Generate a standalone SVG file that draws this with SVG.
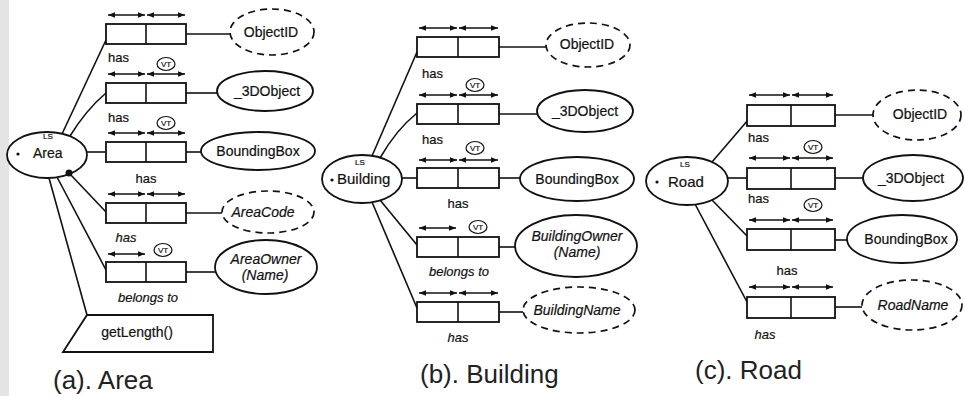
<svg xmlns="http://www.w3.org/2000/svg" width="965" height="396" viewBox="0 0 965 396">
<defs>
<marker id="ah" viewBox="0 0 10 8" refX="10" refY="4" markerWidth="7" markerHeight="5.6" orient="auto-start-reverse" markerUnits="userSpaceOnUse"><path d="M0,0 L10,4 L0,8 z" fill="#111"/></marker>
</defs>
<style>
text{font-family:"Liberation Sans",Arial,sans-serif;fill:#111;stroke:#111;stroke-width:0.2}
.sh{fill:#fff;stroke:#111;stroke-width:1.8}
.dash{fill:#fff;stroke:#111;stroke-width:1.7;stroke-dasharray:7 5}
.c{fill:none;stroke:#111;stroke-width:1.6}
.ar{stroke:#111;stroke-width:1.5;marker-start:url(#ah);marker-end:url(#ah)}
.lab{font-size:14px;text-anchor:middle}
.it{font-style:italic}
.rel{font-size:13px}
.mid{text-anchor:middle}
.vt{fill:#fff;stroke:#111;stroke-width:1.2}
.vtt{font-size:8px;text-anchor:middle}
.ls{font-size:8px;text-anchor:middle}
.nm{font-size:15px}
.cap{font-size:26px;fill:#222;stroke:none}
</style>
<rect x="0" y="0" width="965" height="396" fill="#fff"/>
<rect x="0" y="0" width="9" height="396" fill="#e4e4e4"/>

<!-- connectors -->
<g id="connectors" class="c">
  <!-- panel a -->
  <line x1="62" y1="134" x2="106" y2="40"/>
  <path d="M70,136 Q86,110 106,93"/>
  <line x1="87" y1="152" x2="106" y2="152"/>
  <line x1="69" y1="173" x2="106" y2="212"/>
  <line x1="57" y1="177" x2="106" y2="270"/>
  <line x1="49" y1="178" x2="87" y2="315"/>
  <line x1="186" y1="34" x2="230" y2="34"/>
  <line x1="186" y1="93" x2="217" y2="93"/>
  <line x1="186" y1="152" x2="201" y2="152"/>
  <line x1="186" y1="213" x2="222" y2="213"/>
  <line x1="186" y1="272" x2="216" y2="272"/>
  <!-- panel b -->
  <line x1="372" y1="156" x2="417" y2="52"/>
  <path d="M380,158 Q396,130 417,113"/>
  <line x1="402" y1="178" x2="417" y2="178"/>
  <line x1="380" y1="200" x2="417" y2="245"/>
  <line x1="372" y1="202" x2="417" y2="308"/>
  <line x1="499" y1="47" x2="547" y2="47"/>
  <line x1="499" y1="114" x2="537" y2="114"/>
  <line x1="499" y1="178" x2="520" y2="178"/>
  <line x1="499" y1="247" x2="516" y2="247"/>
  <line x1="499" y1="312" x2="523" y2="312"/>
  <!-- panel c -->
  <line x1="712" y1="162" x2="748" y2="120"/>
  <line x1="728" y1="178" x2="747" y2="178"/>
  <line x1="712" y1="200" x2="747" y2="236"/>
  <line x1="695" y1="204" x2="747" y2="302"/>
  <line x1="835" y1="115" x2="873" y2="115"/>
  <line x1="835" y1="178" x2="863" y2="178"/>
  <line x1="835" y1="240" x2="847" y2="240"/>
  <line x1="835" y1="307" x2="862" y2="307"/>
</g>

<!-- ===== Panel (a) Area ===== -->
<g id="area">
  <ellipse class="sh" cx="47" cy="155" rx="40" ry="23"/>
  <text class="ls" x="48" y="139">LS</text>
  <circle cx="18" cy="154" r="1.6" fill="#111"/>
  <text x="33" y="158" font-size="14">Area</text>
  <circle cx="69" cy="173" r="3.5" fill="#111"/>
</g>
<g id="a-rel1">
  <rect class="sh" x="106" y="24" width="80" height="20"/>
  <line class="c" x1="146" y1="24" x2="146" y2="44"/>
  <line class="ar" x1="108" y1="15" x2="145" y2="15"/>
  <line class="ar" x1="147" y1="15" x2="185" y2="15"/>
  <text class="rel" x="108" y="62">has</text>
</g>
<g id="a-rel2">
  <rect class="sh" x="106" y="83" width="80" height="20"/>
  <line class="c" x1="146" y1="83" x2="146" y2="103"/>
  <line class="ar" x1="108" y1="74" x2="145" y2="74"/>
  <line class="ar" x1="147" y1="74" x2="185" y2="74"/>
  <ellipse class="vt" cx="166" cy="64" rx="9" ry="6.5"/>
  <text class="vtt" x="166" y="67">VT</text>
  <text class="rel" x="108" y="122">has</text>
</g>
<g id="a-rel3">
  <rect class="sh" x="106" y="142" width="80" height="20"/>
  <line class="c" x1="146" y1="142" x2="146" y2="162"/>
  <line class="ar" x1="108" y1="133" x2="145" y2="133"/>
  <line class="ar" x1="147" y1="133" x2="185" y2="133"/>
  <ellipse class="vt" cx="166" cy="123" rx="9" ry="6.5"/>
  <text class="vtt" x="166" y="126">VT</text>
  <text class="rel mid" x="146" y="183">has</text>
</g>
<g id="a-rel4">
  <rect class="sh" x="106" y="203" width="80" height="20"/>
  <line class="c" x1="146" y1="203" x2="146" y2="223"/>
  <line class="ar" x1="108" y1="194" x2="145" y2="194"/>
  <line class="ar" x1="147" y1="194" x2="185" y2="194"/>
  <text class="rel mid it" x="126" y="242">has</text>
</g>
<g id="a-rel5">
  <rect class="sh" x="106" y="262" width="80" height="20"/>
  <line class="c" x1="146" y1="262" x2="146" y2="282"/>
  <line class="ar" x1="108" y1="254" x2="145" y2="254"/>
  <ellipse class="vt" cx="163" cy="250" rx="9" ry="6.5"/>
  <text class="vtt" x="163" y="253">VT</text>
  <text class="rel mid it" x="148" y="302">belongs to</text>
</g>
<g id="a-objectid">
  <ellipse class="dash" cx="272" cy="32" rx="42" ry="23"/>
  <text class="lab" x="271" y="37">ObjectID</text>
</g>
<g id="a-3dobject">
  <ellipse class="sh" cx="265" cy="91" rx="48" ry="20"/>
  <text class="lab" x="267" y="96">_3DObject</text>
</g>
<g id="a-boundingbox">
  <ellipse class="sh" cx="258" cy="151" rx="57" ry="19"/>
  <text class="lab" x="258" y="156">BoundingBox</text>
</g>
<g id="a-areacode">
  <ellipse class="dash" cx="268" cy="212" rx="46" ry="21"/>
  <text class="lab it" x="263" y="217">AreaCode</text>
</g>
<g id="a-areaowner">
  <ellipse class="sh" cx="266" cy="267" rx="51" ry="27"/>
  <text class="lab it" x="266" y="264">AreaOwner</text>
  <text class="lab it" x="265" y="280">(Name)</text>
</g>
<g id="a-getlength">
  <polygon class="sh" points="87,315 213,315 213,352 63,352"/>
  <text class="lab" x="137" y="337">getLength()</text>
</g>
<text class="cap" x="53" y="389">(a). Area</text>

<!-- ===== Panel (b) Building ===== -->
<g id="building">
  <ellipse class="sh" cx="362" cy="179" rx="40" ry="24"/>
  <text class="ls" x="360" y="165">LS</text>
  <circle cx="332" cy="180" r="1.6" fill="#111"/>
  <text class="nm" x="337" y="184">Building</text>
</g>
<g id="b-rel1">
  <rect class="sh" x="417" y="37" width="82" height="20"/>
  <line class="c" x1="458" y1="37" x2="458" y2="57"/>
  <line class="ar" x1="419" y1="28" x2="457" y2="28"/>
  <line class="ar" x1="459" y1="28" x2="498" y2="28"/>
  <text class="rel" x="422" y="78">has</text>
</g>
<g id="b-rel2">
  <rect class="sh" x="417" y="104" width="82" height="20"/>
  <line class="c" x1="458" y1="104" x2="458" y2="124"/>
  <line class="ar" x1="419" y1="95" x2="457" y2="95"/>
  <line class="ar" x1="459" y1="95" x2="498" y2="95"/>
  <ellipse class="vt" cx="475" cy="85" rx="9" ry="6.5"/>
  <text class="vtt" x="475" y="88">VT</text>
  <text class="rel" x="422" y="144">has</text>
</g>
<g id="b-rel3">
  <rect class="sh" x="417" y="168" width="82" height="20"/>
  <line class="c" x1="458" y1="168" x2="458" y2="188"/>
  <line class="ar" x1="419" y1="160" x2="457" y2="160"/>
  <line class="ar" x1="459" y1="160" x2="498" y2="160"/>
  <ellipse class="vt" cx="475" cy="148" rx="9" ry="6.5"/>
  <text class="vtt" x="475" y="151">VT</text>
  <text class="rel mid" x="458" y="208">has</text>
</g>
<g id="b-rel4">
  <rect class="sh" x="417" y="237" width="82" height="20"/>
  <line class="c" x1="458" y1="237" x2="458" y2="257"/>
  <line class="ar" x1="419" y1="228" x2="456" y2="228"/>
  <ellipse class="vt" cx="478" cy="227" rx="9" ry="6.5"/>
  <text class="vtt" x="478" y="230">VT</text>
  <text class="rel mid it" x="459" y="276">belongs to</text>
</g>
<g id="b-rel5">
  <rect class="sh" x="417" y="302" width="82" height="20"/>
  <line class="c" x1="458" y1="302" x2="458" y2="322"/>
  <line class="ar" x1="419" y1="293" x2="457" y2="293"/>
  <line class="ar" x1="459" y1="293" x2="498" y2="293"/>
  <text class="rel mid it" x="458" y="342">has</text>
</g>
<g id="b-objectid">
  <ellipse class="dash" cx="588" cy="45" rx="42" ry="22"/>
  <text class="lab" x="587" y="49">ObjectID</text>
</g>
<g id="b-3dobject">
  <ellipse class="sh" cx="585" cy="111" rx="48" ry="21"/>
  <text class="lab" x="585" y="116">_3DObject</text>
</g>
<g id="b-boundingbox">
  <ellipse class="sh" cx="577" cy="179" rx="57" ry="22"/>
  <text class="lab" x="577" y="184">BoundingBox</text>
</g>
<g id="b-buildingowner">
  <ellipse class="sh" cx="576" cy="246" rx="61" ry="31"/>
  <text class="lab it" x="577" y="241">BuildingOwner</text>
  <text class="lab it" x="577" y="257">(Name)</text>
</g>
<g id="b-buildingname">
  <ellipse class="dash" cx="579" cy="310" rx="56" ry="23"/>
  <text class="lab it" x="577" y="315">BuildingName</text>
</g>
<text class="cap" x="420" y="383">(b). Building</text>

<!-- ===== Panel (c) Road ===== -->
<g id="road">
  <ellipse class="sh" cx="687" cy="181" rx="41" ry="24"/>
  <text class="ls" x="685" y="167">LS</text>
  <circle cx="657" cy="182" r="1.6" fill="#111"/>
  <text class="nm" x="668" y="187">Road</text>
</g>
<g id="c-rel1">
  <rect class="sh" x="747" y="105" width="88" height="21"/>
  <line class="c" x1="791" y1="105" x2="791" y2="126"/>
  <line class="ar" x1="749" y1="95" x2="790" y2="95"/>
  <line class="ar" x1="792" y1="95" x2="833" y2="95"/>
  <text class="rel" x="748" y="142">has</text>
</g>
<g id="c-rel2">
  <rect class="sh" x="747" y="168" width="88" height="21"/>
  <line class="c" x1="791" y1="168" x2="791" y2="189"/>
  <line class="ar" x1="749" y1="158" x2="790" y2="158"/>
  <line class="ar" x1="792" y1="158" x2="833" y2="158"/>
  <ellipse class="vt" cx="813" cy="147" rx="9" ry="6.5"/>
  <text class="vtt" x="813" y="150">VT</text>
  <text class="rel" x="748" y="203">has</text>
</g>
<g id="c-rel3">
  <rect class="sh" x="747" y="229" width="88" height="21"/>
  <line class="c" x1="791" y1="229" x2="791" y2="250"/>
  <line class="ar" x1="749" y1="220" x2="790" y2="220"/>
  <line class="ar" x1="792" y1="220" x2="833" y2="220"/>
  <ellipse class="vt" cx="813" cy="205" rx="9" ry="6.5"/>
  <text class="vtt" x="813" y="208">VT</text>
  <text class="rel mid" x="787" y="275">has</text>
</g>
<g id="c-rel4">
  <rect class="sh" x="747" y="297" width="88" height="21"/>
  <line class="c" x1="791" y1="297" x2="791" y2="318"/>
  <line class="ar" x1="749" y1="287" x2="790" y2="287"/>
  <line class="ar" x1="792" y1="287" x2="833" y2="287"/>
  <text class="rel mid it" x="765" y="339">has</text>
</g>
<g id="c-objectid">
  <ellipse class="dash" cx="917" cy="115" rx="44" ry="25"/>
  <text class="lab" x="920" y="119">ObjectID</text>
</g>
<g id="c-3dobject">
  <ellipse class="sh" cx="913" cy="178" rx="50" ry="23"/>
  <text class="lab" x="911" y="183">_3DObject</text>
</g>
<g id="c-boundingbox">
  <ellipse class="sh" cx="902" cy="239" rx="55" ry="24"/>
  <text class="lab" x="906" y="244">BoundingBox</text>
</g>
<g id="c-roadname">
  <ellipse class="dash" cx="912" cy="305" rx="50" ry="25"/>
  <text class="lab it" x="913" y="310">RoadName</text>
</g>
<text class="cap" x="695" y="379">(c). Road</text>
</svg>
